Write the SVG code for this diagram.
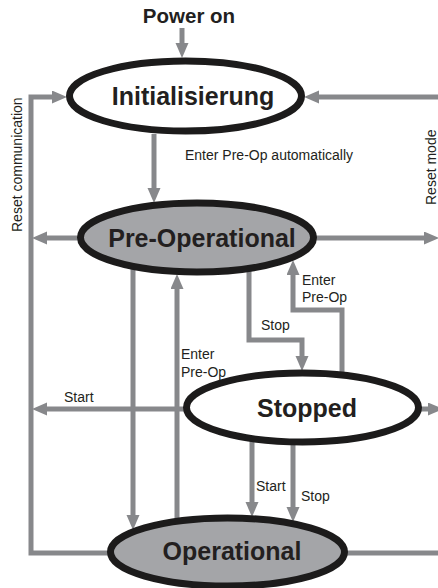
<svg xmlns="http://www.w3.org/2000/svg" width="438" height="588" viewBox="0 0 438 588">
<defs>
<marker id="ah" markerUnits="userSpaceOnUse" markerWidth="16" markerHeight="14" refX="6" refY="6.5" orient="auto">
<path d="M0,0 L15,6.5 L0,13 z" fill="#87888b"/>
</marker>
<style>
.c{fill:none;stroke:#87888b;stroke-width:5;stroke-linecap:butt;stroke-linejoin:miter}
.a{marker-end:url(#ah)}
.n{stroke:#1c1b1b;stroke-width:7}
.w{fill:#ffffff}
.g{fill:#a4a5a8}
.big{font-family:"Liberation Sans",Arial,sans-serif;font-weight:bold;font-size:25px;fill:#231f20;text-anchor:middle}
.sm{font-family:"Liberation Sans",Arial,sans-serif;font-size:14px;fill:#231f20}
</style>
</defs>
<rect width="438" height="588" fill="#ffffff"/>
<g id="connectors">
<path class="c a" d="M182,28 V49"/>
<path class="c a" d="M154,134 V194"/>
<path class="c a" d="M110,553 H31 V97 H58"/>
<path class="c a" d="M445,97 H313"/>
<path class="c a" d="M85,238 H41"/>
<path class="c a" d="M310,238 H430"/>
<path class="c a" d="M133,265 V521"/>
<path class="c a" d="M177,522 V283"/>
<path class="c a" d="M249,268 V340 H302 V362"/>
<path class="c a" d="M342,376 V310 H293 V269"/>
<path class="c a" d="M190,409 H41"/>
<path class="c a" d="M415,409 H434"/>
<path class="c a" d="M252,438 V508"/>
<path class="c a" d="M293,440 V513"/>
<path class="c" d="M345,553 H445"/>
<text class="sm" x="185" y="160">Enter Pre-Op automatically</text>
<text class="sm" x="302" y="285">Enter</text>
<text class="sm" x="302" y="302">Pre-Op</text>
<text class="sm" x="261" y="330">Stop</text>
<text class="sm" x="181" y="359">Enter</text>
<text class="sm" x="181" y="377">Pre-Op</text>
<text class="sm" x="64" y="402">Start</text>
<text class="sm" x="256" y="491">Start</text>
<text class="sm" x="301" y="501">Stop</text>
<text class="sm" transform="translate(22,232) rotate(-90)">Reset communication</text>
<text class="sm" transform="translate(436,205) rotate(-90)">Reset mode</text>
</g>
<text id="power-on" x="189" y="23" style="font-family:'Liberation Sans',Arial,sans-serif;font-weight:bold;font-size:20.5px;fill:#231f20;text-anchor:middle">Power on</text>
<g id="initialisierung">
<ellipse class="n w" cx="185.5" cy="96" rx="116" ry="35"/>
<text class="big" x="193" y="105">Initialisierung</text>
</g>
<g id="pre-operational">
<ellipse class="n g" cx="197" cy="237.5" rx="116.5" ry="34.5"/>
<text class="big" x="202" y="247">Pre-Operational</text>
</g>
<g id="stopped">
<ellipse class="n w" cx="302.5" cy="407.5" rx="116" ry="34.5"/>
<text class="big" x="307" y="417">Stopped</text>
</g>
<g id="operational">
<ellipse class="n g" cx="227.5" cy="552" rx="117" ry="34"/>
<text class="big" x="232" y="560">Operational</text>
</g>
</svg>
